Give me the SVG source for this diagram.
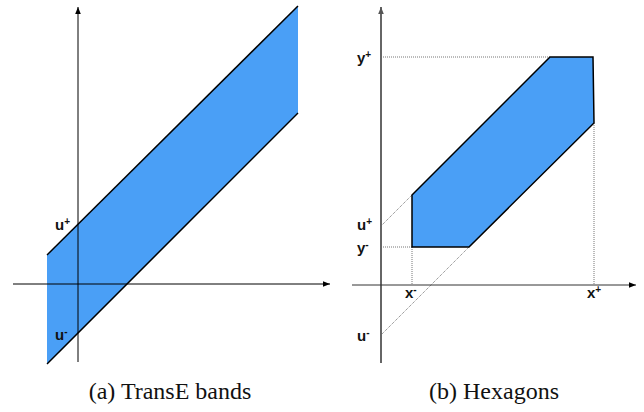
<svg xmlns="http://www.w3.org/2000/svg" width="644" height="412" viewBox="0 0 644 412">
<style>
.lbl{font-family:"Liberation Sans",Arial,sans-serif;font-weight:bold;font-size:15px;fill:#111}
.sup{font-size:10px}
.cap{font-family:"Liberation Serif","Times New Roman",serif;font-size:24px;fill:#111;text-anchor:middle}
.fill{fill:#4A9FF6}
.edge{stroke:#000;stroke-width:1.5;fill:none}
.dot{stroke:#777;stroke-width:1;stroke-dasharray:1 1;fill:none}
</style>
<defs>
<marker id="ah" viewBox="0 0 10 10" refX="10" refY="5" markerWidth="7" markerHeight="7" orient="auto" markerUnits="userSpaceOnUse">
<path d="M0,1 L10,5 L0,9 Z" fill="#000"/>
</marker>
<marker id="ahg" viewBox="0 0 10 10" refX="10" refY="5" markerWidth="7" markerHeight="7" orient="auto" markerUnits="userSpaceOnUse">
<path d="M0,1 L10,5 L0,9 Z" fill="#555"/>
</marker>
</defs>

<g id="panel-a">
<g id="band">
<polygon class="fill" points="47,255 298,6 298,113 47,364"/>
<line class="edge" x1="47" y1="255" x2="298" y2="6"/>
<line class="edge" x1="47" y1="364" x2="298" y2="113"/>
</g>
<g id="axes-a">
<line x1="78" y1="362" x2="78" y2="7" stroke="#000" stroke-width="1" marker-end="url(#ah)"/>
<line x1="13" y1="284" x2="330" y2="284" stroke="#000" stroke-width="1" marker-end="url(#ah)"/>
</g>
<g id="labels-a">
<text class="lbl" x="55" y="230">u<tspan class="sup" dy="-5">+</tspan></text>
<text class="lbl" x="55" y="340">u<tspan class="sup" dy="-5">-</tspan></text>
</g>
<text class="cap" x="170" y="399">(a) TransE bands</text>
</g>

<g id="panel-b">
<g id="guides">
<line class="dot" x1="383" y1="57" x2="550" y2="57"/>
<line class="dot" x1="594" y1="123" x2="594" y2="285"/>
<line class="dot" x1="383" y1="247" x2="412" y2="247"/>
<line class="dot" x1="412" y1="247" x2="412" y2="285"/>
<line class="dot" x1="412" y1="195" x2="381" y2="226"/>
<line class="dot" x1="469" y1="247" x2="381" y2="335"/>
</g>
<g id="hexagon">
<polygon class="edge" style="fill:#4A9FF6" points="412,195 550,57 593,57 594,123 469,247 412,247"/>
</g>
<g id="axes-b">
<line x1="381" y1="363" x2="381" y2="7" stroke="#666" stroke-width="2" marker-end="url(#ahg)"/>
<line x1="352" y1="285" x2="636" y2="285" stroke="#333" stroke-width="1" marker-end="url(#ah)"/>
</g>
<g id="labels-b">
<text class="lbl" x="357" y="63">y<tspan class="sup" dy="-5">+</tspan></text>
<text class="lbl" x="357" y="230">u<tspan class="sup" dy="-5">+</tspan></text>
<text class="lbl" x="357" y="253">y<tspan class="sup" dy="-5">-</tspan></text>
<text class="lbl" x="405" y="298">x<tspan class="sup" dy="-5">-</tspan></text>
<text class="lbl" x="587" y="298">x<tspan class="sup" dy="-5">+</tspan></text>
<text class="lbl" x="357" y="341">u<tspan class="sup" dy="-5">-</tspan></text>
</g>
<text class="cap" x="494" y="399">(b) Hexagons</text>
</g>
</svg>
